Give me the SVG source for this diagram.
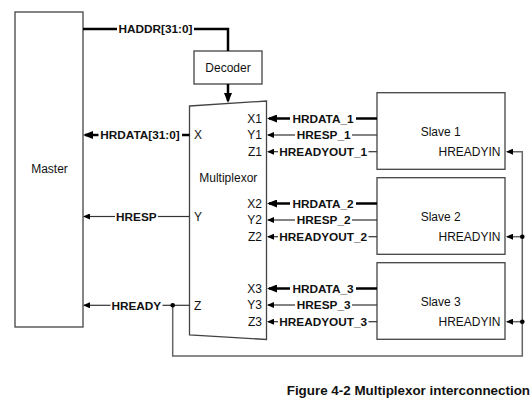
<svg xmlns="http://www.w3.org/2000/svg" width="532" height="402" viewBox="0 0 532 402">
<style>
text{font-family:"Liberation Sans",Arial,sans-serif;fill:#111;}
.n{font-size:12px;}
.b{font-size:11.8px;font-weight:bold;}
.m{text-anchor:middle;}
.e{text-anchor:end;}
.box{fill:#fff;stroke:#444;stroke-width:1.3;}
.bus{fill:none;stroke:#000;stroke-width:2.5;}
.sig{fill:none;stroke:#333;stroke-width:1.2;}
.fb{fill:none;stroke:#666;stroke-width:1.5;}
.dot{fill:#000;}
.cap{font-size:13.4px;font-weight:bold;text-anchor:end;}
</style>
<defs>
<marker id="ab" markerUnits="userSpaceOnUse" markerWidth="10" markerHeight="8" refX="8" refY="4" orient="auto"><path d="M0,0 L10,4 L0,8 z" fill="#000"/></marker>
<marker id="as" markerUnits="userSpaceOnUse" markerWidth="7" markerHeight="6" refX="6" refY="3" orient="auto"><path d="M0,0 L7,3 L0,6 z" fill="#000"/></marker>
</defs>
<rect width="532" height="402" fill="#fff"/>

<g id="master">
<rect class="box" x="15" y="12" width="68" height="315"/>
<text class="n m" x="49.5" y="173">Master</text>
</g>

<g id="decoder">
<rect class="box" x="194" y="51" width="68" height="33"/>
<text class="n m" x="228" y="71.5">Decoder</text>
</g>

<g id="mux">
<polygon class="box" points="189.5,106 266.5,101 266.5,339.5 189.5,335"/>
<text class="n m" x="228.3" y="182.3">Multiplexor</text>
<text class="n" x="194" y="139.2">X</text>
<text class="n" x="194" y="220.7">Y</text>
<text class="n" x="194" y="309.5">Z</text>
<text class="n e" x="262" y="122.7">X1</text>
<text class="n e" x="262" y="139.2">Y1</text>
<text class="n e" x="262" y="155.9">Z1</text>
<text class="n e" x="262" y="207.7">X2</text>
<text class="n e" x="262" y="224.2">Y2</text>
<text class="n e" x="262" y="240.9">Z2</text>
<text class="n e" x="262" y="292.7">X3</text>
<text class="n e" x="262" y="309.2">Y3</text>
<text class="n e" x="262" y="325.9">Z3</text>
</g>

<g id="slave1">
<rect class="box" x="377" y="92.7" width="128" height="76.6"/>
<text class="n m" x="440.7" y="136">Slave 1</text>
<text class="n e" x="500.5" y="155.9">HREADYIN</text>
</g>
<g id="slave2">
<rect class="box" x="377" y="177.7" width="128" height="76.6"/>
<text class="n m" x="440.7" y="221">Slave 2</text>
<text class="n e" x="500.5" y="240.9">HREADYIN</text>
</g>
<g id="slave3">
<rect class="box" x="377" y="262.7" width="128" height="76.6"/>
<text class="n m" x="440.7" y="306">Slave 3</text>
<text class="n e" x="500.5" y="325.9">HREADYIN</text>
</g>

<g id="connectors">
<!-- HADDR -->
<path class="bus" d="M83,29 H117 M194,29 H228 V51"/>
<text class="b m" x="155.5" y="33.3">HADDR[31:0]</text>
<!-- Decoder to mux -->
<path class="bus" d="M228,84 V101" marker-end="url(#ab)"/>
<!-- Left side -->
<path class="bus" d="M189.5,135 H182"/>
<path class="bus" d="M98.5,135 H85" marker-end="url(#ab)"/>
<text class="b m" x="140" y="139.2">HRDATA[31:0]</text>
<path class="sig" d="M189.5,216.5 H158"/>
<path class="sig" d="M115,216.5 H84" marker-end="url(#as)"/>
<text class="b m" x="136.3" y="220.7">HRESP</text>
<path class="sig" d="M189.5,305.3 H162.5"/>
<path class="sig" d="M110.5,305.3 H84" marker-end="url(#as)"/>
<text class="b m" x="136.3" y="309.5">HREADY</text>
<!-- Slave 1 -->
<path class="bus" d="M377,118.5 H356"/>
<path class="bus" d="M290,118.5 H269" marker-end="url(#ab)"/>
<text class="b m" x="323" y="122.7">HRDATA_1</text>
<path class="sig" d="M377,135 H352"/>
<path class="sig" d="M295,135 H268" marker-end="url(#as)"/>
<text class="b m" x="323.7" y="139.2">HRESP_1</text>
<path class="sig" d="M377,151.7 H368.5"/>
<path class="sig" d="M278,151.7 H268" marker-end="url(#as)"/>
<text class="b m" x="323.2" y="155.9">HREADYOUT_1</text>
<!-- Slave 2 -->
<path class="bus" d="M377,203.5 H356"/>
<path class="bus" d="M290,203.5 H269" marker-end="url(#ab)"/>
<text class="b m" x="323" y="207.7">HRDATA_2</text>
<path class="sig" d="M377,220 H352"/>
<path class="sig" d="M295,220 H268" marker-end="url(#as)"/>
<text class="b m" x="323.7" y="224.2">HRESP_2</text>
<path class="sig" d="M377,236.7 H368.5"/>
<path class="sig" d="M278,236.7 H268" marker-end="url(#as)"/>
<text class="b m" x="323.2" y="240.9">HREADYOUT_2</text>
<!-- Slave 3 -->
<path class="bus" d="M377,288.5 H356"/>
<path class="bus" d="M290,288.5 H269" marker-end="url(#ab)"/>
<text class="b m" x="323" y="292.7">HRDATA_3</text>
<path class="sig" d="M377,305 H352"/>
<path class="sig" d="M295,305 H268" marker-end="url(#as)"/>
<text class="b m" x="323.7" y="309.2">HRESP_3</text>
<path class="sig" d="M377,321.7 H368.5"/>
<path class="sig" d="M278,321.7 H268" marker-end="url(#as)"/>
<text class="b m" x="323.2" y="325.9">HREADYOUT_3</text>
<!-- HREADY feedback -->
<path class="fb" d="M172.7,305.3 V356 H522.3 V151.7 H507" marker-end="url(#as)"/>
<path class="fb" d="M522.3,236.7 H507" marker-end="url(#as)"/>
<path class="fb" d="M522.3,321.7 H507" marker-end="url(#as)"/>
<circle class="dot" cx="172.7" cy="305.3" r="2.3"/>
<circle class="dot" cx="522.3" cy="236.7" r="2.3"/>
<circle class="dot" cx="522.3" cy="321.7" r="2.3"/>
</g>

<text class="cap" x="530" y="395">Figure 4-2 Multiplexor interconnection</text>
</svg>
